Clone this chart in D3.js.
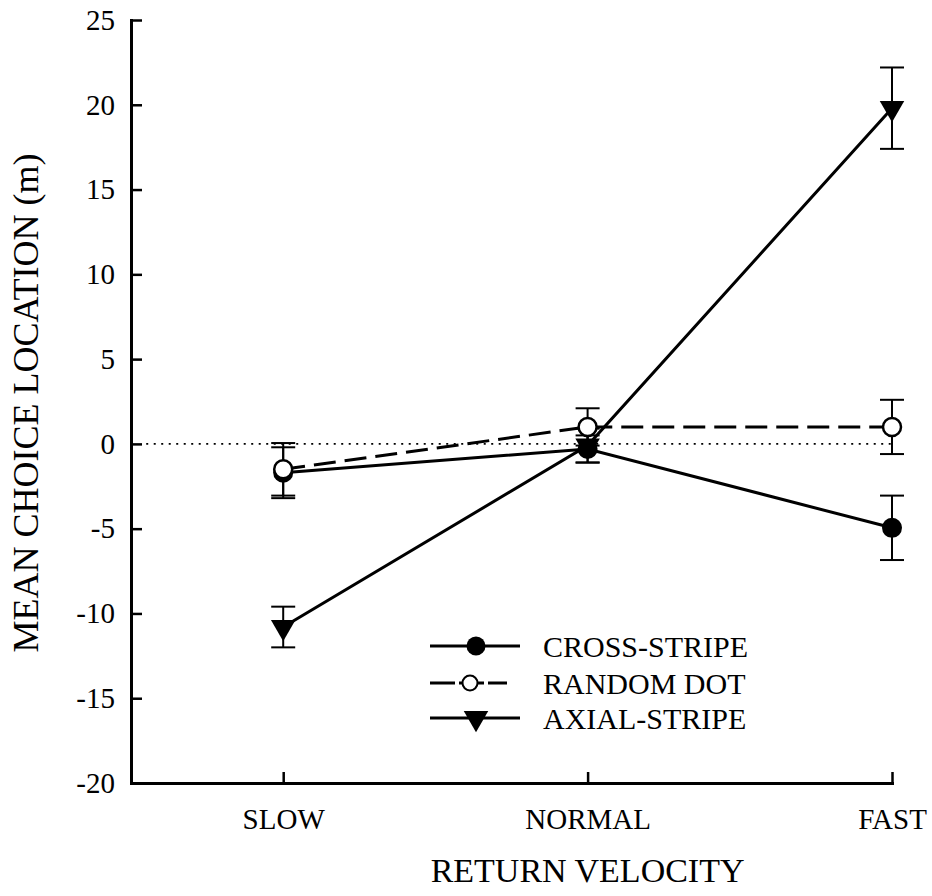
<!DOCTYPE html>
<html>
<head>
<meta charset="utf-8">
<script src="https://cdn.jsdelivr.net/npm/d3@7.9.0/dist/d3.min.js"></script>
<style>
  body { margin: 0; background: #fff; }
  svg { display: block; }
  text { font-family: "Liberation Serif", "Times New Roman", serif; fill: #000; }
</style>
</head>
<body>
<svg id="chart" width="932" height="896"></svg>
<script>
// Categories on the x axis
const velocities = ['SLOW', 'NORMAL', 'FAST'];
const yTicks = [-20, -15, -10, -5, 0, 5, 10, 15, 20, 25];

// Series values (mean choice location, m) and error half-widths
const crossStripe = [-1.7, -0.3, -4.95];
const crossStripeErr = [1.5, 0.8, 1.9];
const randomDot = [-1.5, 1.0, 1.0];
const randomDotErr = [1.55, 1.1, 1.6];
const axialStripe = [-10.8, -0.1, 19.8];
const axialStripeErr = [1.2, 1.0, 2.4];

const seriesNames = ['CROSS-STRIPE', 'RANDOM DOT', 'AXIAL-STRIPE'];

let series = [
  { name: seriesNames[2], values: axialStripe, errs: axialStripeErr, marker: 'triangle', dash: null },
  { name: seriesNames[0], values: crossStripe, errs: crossStripeErr, marker: 'filled', dash: null },
  { name: seriesNames[1], values: randomDot, errs: randomDotErr, marker: 'open', dash: '22,9' }
];

const svg = d3.select('#chart');

// scales: x uses category index, axis starts half a step left of SLOW
const x = d3.scaleLinear().domain([-0.5, 2]).range([131, 892]);
const y = d3.scaleLinear().domain([-20, 25]).range([783, 20]);

// zero reference line
svg.append('line')
  .attr('x1', x(-0.45)).attr('x2', x(2))
  .attr('y1', y(0)).attr('y2', y(0))
  .attr('stroke', '#000')
  .attr('stroke-width', 1.6)
  .attr('stroke-dasharray', '2,5.5');

// axes
let yAxis = svg.append('g')
  .attr('transform', `translate(${x(-0.5)},0)`)
  .call(d3.axisLeft(y).tickValues(yTicks).tickFormat(d => String(d))
    .tickSizeInner(-11).tickSizeOuter(0).tickPadding(16));

let xAxis = svg.append('g')
  .attr('transform', `translate(0,${y(-20)})`)
  .call(d3.axisBottom(x).tickValues([0, 1, 2]).tickFormat(i => velocities[i])
    .tickSizeInner(-11).tickSizeOuter(0).tickPadding(25));

[yAxis, xAxis].forEach(ax => {
  ax.select('.domain').attr('stroke-width', 3).attr('stroke-linecap', 'square');
  ax.selectAll('.tick line').attr('stroke-width', 2.5);
  ax.selectAll('.tick text').attr('font-size', 29);
});

// axis titles
svg.append('text')
  .attr('x', x(1)).attr('y', 882)
  .attr('text-anchor', 'middle')
  .attr('font-size', 34)
  .text('RETURN VELOCITY');

svg.append('text')
  .attr('transform', 'translate(38,403) rotate(-90)')
  .attr('text-anchor', 'middle')
  .attr('font-size', 36)
  .text('MEAN CHOICE LOCATION (m)');

// marker drawing helper
function drawMarker(g, type, cx, cy, small) {
  if (type === 'filled') {
    g.append('circle').attr('cx', cx).attr('cy', cy).attr('r', small ? 9.5 : 10).attr('fill', '#000');
  } else if (type === 'open') {
    g.append('circle').attr('cx', cx).attr('cy', cy).attr('r', small ? 7.5 : 9)
      .attr('fill', '#fff').attr('stroke', '#000').attr('stroke-width', small ? 2 : 2.5);
  } else {
    let tri = d3.symbol().type(d3.symbolTriangle).size(260);
    g.append('path').attr('d', tri())
      .attr('transform', `translate(${cx},${cy}) rotate(180)`)
      .attr('fill', '#000');
  }
}

// error bars (behind everything else)
series.forEach(s => {
  let g = svg.append('g');
  s.values.forEach((v, i) => {
    let lo = y(v - s.errs[i]), hi = y(v + s.errs[i]);
    g.append('line').attr('x1', x(i)).attr('x2', x(i)).attr('y1', lo).attr('y2', hi)
      .attr('stroke', '#000').attr('stroke-width', 2);
    [lo, hi].forEach(yy => {
      g.append('line').attr('x1', x(i) - 12).attr('x2', x(i) + 12).attr('y1', yy).attr('y2', yy)
        .attr('stroke', '#000').attr('stroke-width', 2);
    });
  });
});

// lines
let lineGen = d3.line().x((d, i) => x(i)).y(d => y(d));
series.forEach(s => {
  svg.append('path')
    .datum(s.values)
    .attr('d', lineGen)
    .attr('fill', 'none')
    .attr('stroke', '#000')
    .attr('stroke-width', 3)
    .attr('stroke-dasharray', s.dash);
});

// markers
series.forEach(s => {
  let g = svg.append('g');
  s.values.forEach((v, i) => drawMarker(g, s.marker, x(i), y(v)));
});

// legend
let legendRows = [
  { name: seriesNames[0], marker: 'filled', dash: null, x2: 520, mx: 476, y: 646 },
  { name: seriesNames[1], marker: 'open', dash: '25,4', x2: 507, mx: 470, y: 683 },
  { name: seriesNames[2], marker: 'triangle', dash: null, x2: 520, mx: 476, y: 718 }
];
let legend = svg.append('g');
legendRows.forEach(r => {
  legend.append('line').attr('x1', 430).attr('x2', r.x2).attr('y1', r.y).attr('y2', r.y)
    .attr('stroke', '#000').attr('stroke-width', 3).attr('stroke-dasharray', r.dash);
  drawMarker(legend, r.marker, r.mx, r.y, true);
  legend.append('text').attr('x', 543).attr('y', r.y).attr('dy', '0.35em')
    .attr('font-size', 30).text(r.name);
});
</script>
</body>
</html>
